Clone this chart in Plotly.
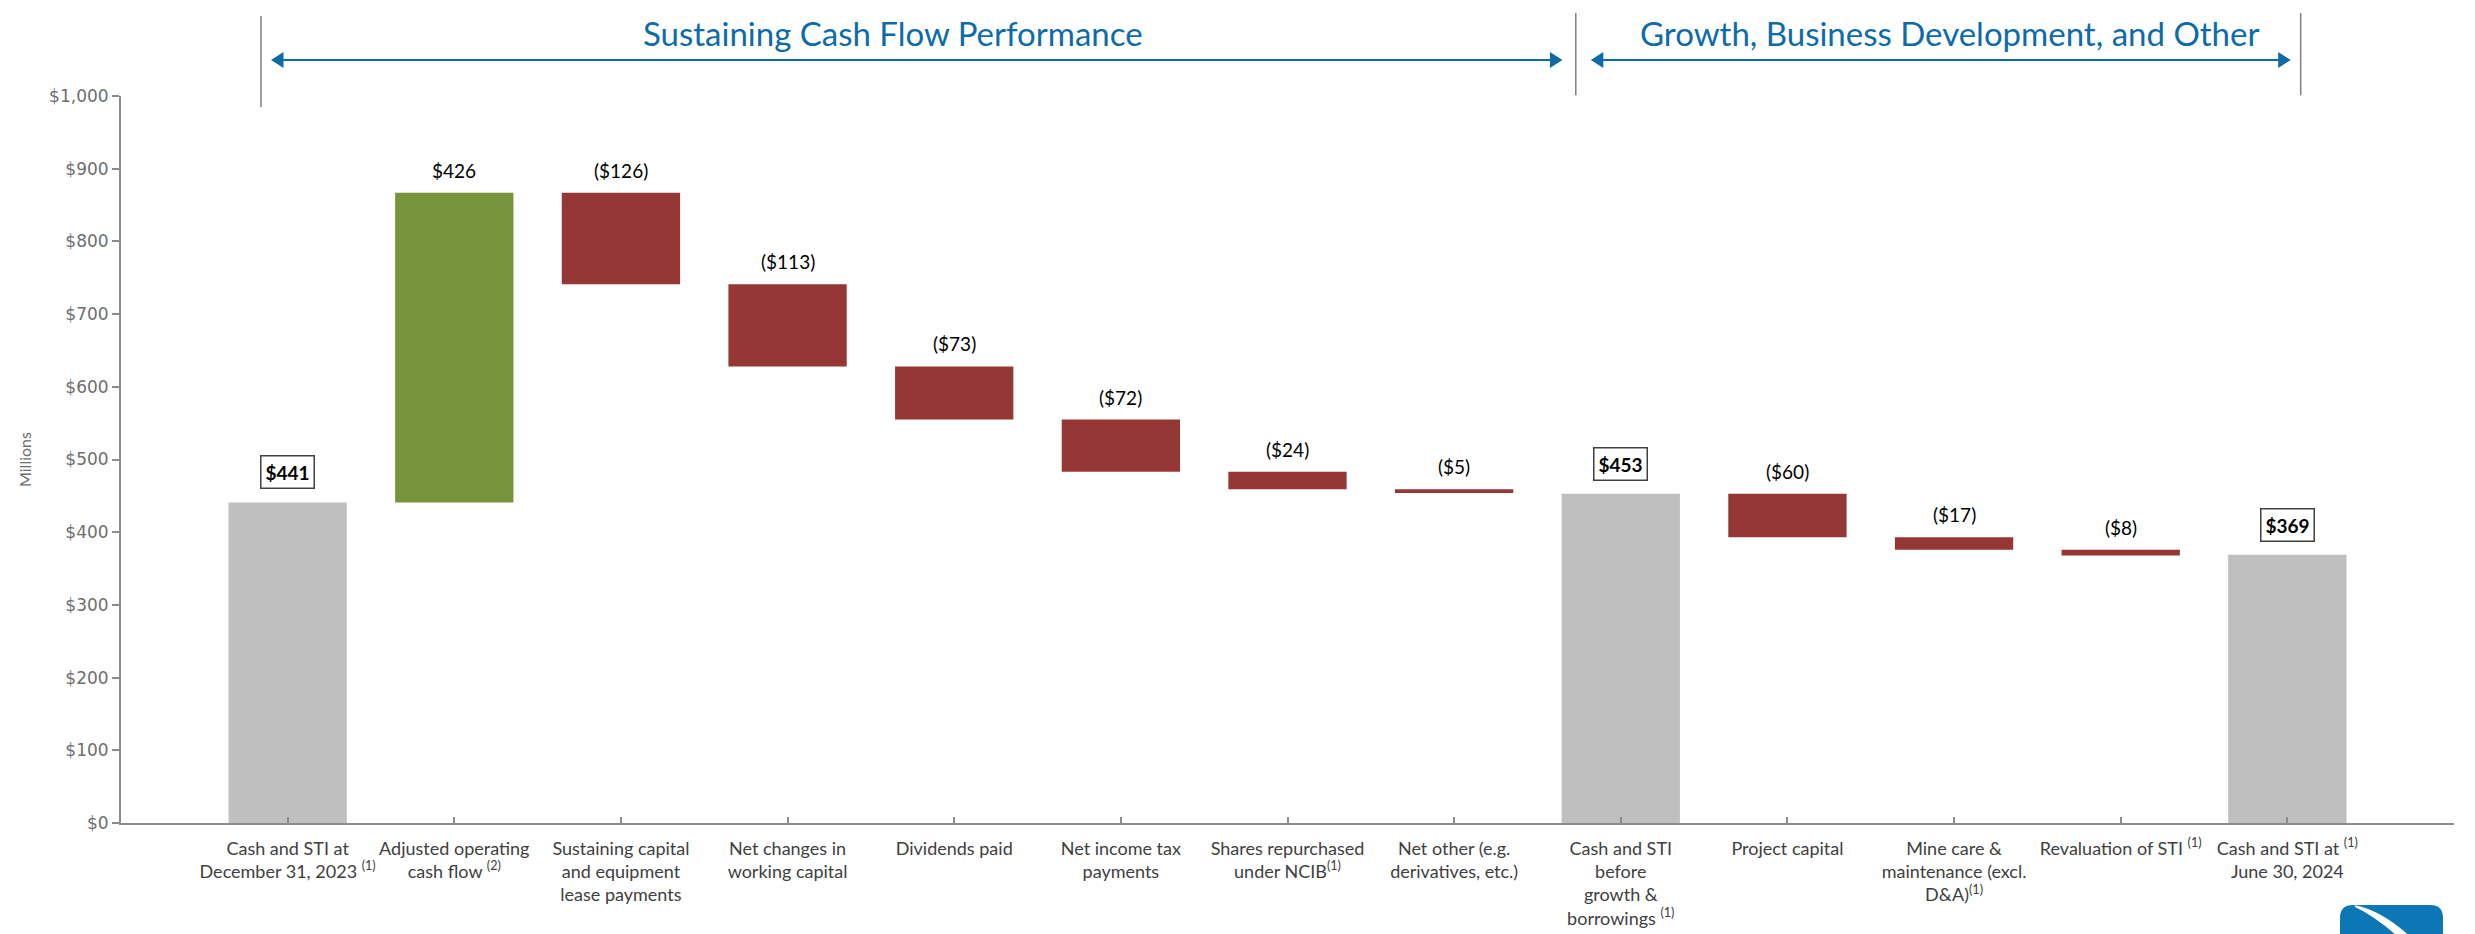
import plotly.graph_objects as go

# ---------------- data ----------------
categories = [
    "Cash and STI at<br>December 31, 2023 <sup>(1)</sup>",
    "Adjusted operating<br>cash flow <sup>(2)</sup>",
    "Sustaining capital<br>and equipment<br>lease payments",
    "Net changes in<br>working capital",
    "Dividends paid",
    "Net income tax<br>payments",
    "Shares repurchased<br>under NCIB<sup>(1)</sup>",
    "Net other (e.g.<br>derivatives, etc.)",
    "Cash and STI<br>before<br>growth &<br>borrowings <sup>(1)</sup>",
    "Project capital",
    "Mine care &<br>maintenance (excl.<br>D&A)<sup>(1)</sup>",
    "Revaluation of STI <sup>(1)</sup>",
    "Cash and STI at <sup>(1)</sup><br>June 30, 2024",
]
values = [441, 426, -126, -113, -73, -72, -24, -5, 453, -60, -17, -8, 369]
kinds = ["total", "delta", "delta", "delta", "delta", "delta", "delta", "delta",
         "total", "delta", "delta", "delta", "total"]

section_titles = ["Sustaining Cash Flow Performance", "Growth, Business Development, and Other"]

# ---------------- styles ----------------
C_TOTAL = "#BFBFBF"
C_UP = "#77933C"
C_DOWN = "#953735"
C_BLUE = "#0E6BA8"
C_AXIS = "#8C8C8C"
W, H = 2475, 934
ML, MR, MT, MB = 121, 21, 96, 111

# waterfall geometry computed from the data
bases, heights, colors, tops = [], [], [], []
level = 0
for v, k in zip(values, kinds):
    if k == "total":
        level = v
        bases.append(0)
        heights.append(v)
        colors.append(C_TOTAL)
        tops.append(v)
    else:
        new = level + v
        bases.append(min(level, new))
        heights.append(abs(v))
        colors.append(C_UP if v > 0 else C_DOWN)
        tops.append(max(level, new))
        level = new

xs = list(range(len(categories)))

fig = go.Figure()
fig.add_trace(go.Bar(
    x=xs, y=heights, base=bases,
    marker=dict(color=colors, line=dict(width=0)),
    hoverinfo="skip", showlegend=False,
))

annotations = []
for x, v, k, t in zip(xs, values, kinds, tops):
    if k == "total":
        annotations.append(dict(
            x=x, y=t, xref="x", yref="y", text=f"<b>${v:,}</b>", showarrow=False,
            yanchor="bottom", yshift=13, font=dict(family="Lato", size=19, color="#000000"),
            bordercolor="#404040", borderwidth=1.5, borderpad=4, bgcolor="white"))
    else:
        txt = f"${v:,}" if v > 0 else f"(${abs(v):,})"
        annotations.append(dict(
            x=x, y=t, xref="x", yref="y", text=txt, showarrow=False,
            yanchor="bottom", yshift=9, font=dict(family="Lato", size=19, color="#000000")))

# header section titles
annotations.append(dict(x=3.63, y=1.0867, xref="x", yref="paper", text=section_titles[0],
                        yanchor="middle", xanchor="center",
                        showarrow=False, font=dict(family="Lato", size=33, color=C_BLUE)))
annotations.append(dict(x=9.97, y=1.0867, xref="x", yref="paper", text=section_titles[1],
                        yanchor="middle", xanchor="center",
                        showarrow=False, font=dict(family="Lato", size=33, color=C_BLUE)))

shapes = []
# separators
for sx, y0, y1 in [(-0.16, 0.985, 1.11), (7.73, 1.001, 1.114), (12.08, 1.001, 1.114)]:
    shapes.append(dict(type="line", xref="x", yref="paper", x0=sx, x1=sx, y0=y0, y1=y1,
                       line=dict(color="#7F7F7F", width=1.5)))

# double-headed arrows
ay = 1.0495
hw = 0.075   # arrowhead length (x units)
hh = 0.011   # arrowhead half height (paper)
for a0, a1 in [(-0.10, 7.65), (7.82, 12.02)]:
    shapes.append(dict(type="line", xref="x", yref="paper", x0=a0 + hw * 0.5, x1=a1 - hw * 0.5,
                       y0=ay, y1=ay, line=dict(color=C_BLUE, width=2)))
    shapes.append(dict(type="path", xref="x", yref="paper",
                       path=f"M {a0},{ay} L {a0 + hw},{ay + hh} L {a0 + hw},{ay - hh} Z",
                       fillcolor=C_BLUE, line=dict(width=0)))
    shapes.append(dict(type="path", xref="x", yref="paper",
                       path=f"M {a1},{ay} L {a1 - hw},{ay + hh} L {a1 - hw},{ay - hh} Z",
                       fillcolor=C_BLUE, line=dict(width=0)))


# logo (bottom-right, partially cut off)
def P(px, py):
    return ((px - ML) / (W - ML - MR), (H - MB - py) / (H - MT - MB))


def path_from(pts_cmds):
    out = []
    for cmd, pts in pts_cmds:
        coords = " ".join(f"{P(a, b)[0]:.5f},{P(a, b)[1]:.5f}" for a, b in pts)
        out.append(f"{cmd} {coords}")
    return " ".join(out) + " Z"


logo = path_from([
    ("M", [(2340, 945)]),
    ("L", [(2340, 918)]),
    ("Q", [(2340, 905), (2353, 905)]),
    ("L", [(2430, 905)]),
    ("Q", [(2443, 905), (2443, 918)]),
    ("L", [(2443, 945)]),
])
swoosh = path_from([
    ("M", [(2355, 906)]),
    ("Q", [(2385, 912), (2418, 945)]),
    ("L", [(2408, 945)]),
    ("Q", [(2380, 918), (2355, 906)]),
])
shapes.append(dict(type="path", xref="paper", yref="paper", path=logo,
                   fillcolor="#0C77B5", line=dict(width=0)))
shapes.append(dict(type="path", xref="paper", yref="paper", path=swoosh,
                   fillcolor="white", line=dict(color="white", width=1.5)))

fig.update_layout(
    width=W, height=H,
    margin=dict(l=ML, r=MR, t=MT, b=MB, pad=0, autoexpand=False),
    plot_bgcolor="white", paper_bgcolor="white",
    bargap=0.29,
    annotations=annotations,
    shapes=shapes,
    font=dict(family="Lato", color="#404040"),
    xaxis=dict(
        range=[-1, 13], tickmode="array", tickvals=xs, ticktext=categories,
        tickfont=dict(family="Lato", size=18, color="#404040"),
        ticks="inside", ticklen=6, tickwidth=1.5, tickcolor=C_AXIS,
        showline=True, linecolor=C_AXIS, linewidth=2, automargin=False,
        showgrid=False, zeroline=False, fixedrange=True, ticklabelstandoff=8,
    ),
    yaxis=dict(
        range=[0, 1000], dtick=100, tick0=0, tickprefix="$", tickformat=",",
        tickfont=dict(family="DejaVu Sans", size=17, color="#6E6E6E"),
        ticks="outside", ticklen=7, tickwidth=1.5, tickcolor=C_AXIS,
        showline=True, linecolor=C_AXIS, linewidth=2, automargin=False,
        showgrid=False, zeroline=False, fixedrange=True,
        title=dict(text="Millions", font=dict(family="Lato", size=16, color="#6E6E6E"), standoff=14),
    ),
)

fig.write_html(
    "out.html",
    config={"displayModeBar": False},
    post_script="document.body.style.margin='0px';document.body.style.overflow='hidden';",
)
